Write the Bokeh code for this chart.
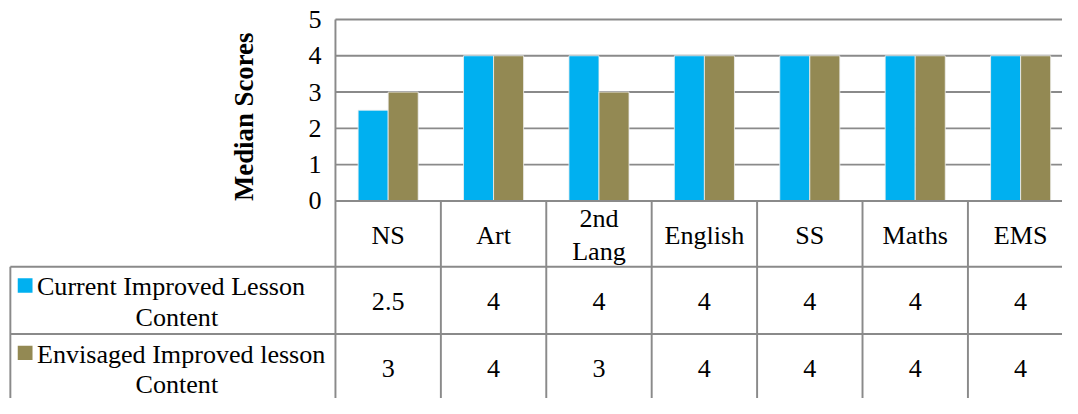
from bokeh.plotting import figure
from bokeh.models import Range1d
from bokeh.core.properties import value
from bokeh.embed import file_html
from bokeh.resources import INLINE

# ---- data ----
categories = ["NS", "Art", "2nd\nLang", "English", "SS", "Maths", "EMS"]
series_names = ["Current Improved Lesson\nContent", "Envisaged Improved lesson\nContent"]
current = [2.5, 4, 4, 4, 4, 4, 4]
envisaged = [3, 4, 3, 4, 4, 4, 4]
y_ticks = [0, 1, 2, 3, 4, 5]
y_title = "Median Scores"
colors = ["#00B0F0", "#938953"]

# ---- geometry (reference pixel space 1078x414, scaled onto the figure) ----
RW, RH = 1078.0, 414.0
W, H = 1062, 398
SX, SY = W / RW, H / RH
S = (SX + SY) / 2
X0, CW = 340.0, 107.0          # left of plot area, width per category
Y0, UH = 208.5, 37.75          # pixel of value 0, pixels per unit
def px2x(px): return (px - X0) / CW
def px2y(py): return (Y0 - py) / UH

FONT = value("Liberation Serif")
GRID = "#8a8a8a"
LW = 2.0 * S

p = figure(width=W, height=H, output_backend="svg", toolbar_location=None,
           x_range=Range1d(px2x(0), px2x(RW)), y_range=Range1d(px2y(RH), px2y(0)),
           x_axis_type=None, y_axis_type=None, min_border=0,
           outline_line_color=None, background_fill_color="white", border_fill_color="white")

n = len(categories)
xend = n + 0.5
bottom = px2y(430)

# gridlines
gy = [t for t in y_ticks if t > 0]
p.segment(x0=[0] * len(gy), x1=[xend] * len(gy), y0=gy, y1=gy, line_color=GRID, line_width=LW)

# bars
bw = 0.285
idx = list(range(n))
for k, (vals, c) in enumerate(zip([current, envisaged], colors)):
    off = (-0.5 + k) * bw
    p.vbar(x=[i + 0.5 + off for i in idx], top=vals, bottom=0, width=bw,
           fill_color=c, line_color="#f0f0f0", line_width=0.8)

# axis line and left line
p.segment(x0=[0], x1=[xend], y0=[0], y1=[0], line_color=GRID, line_width=LW)
p.segment(x0=[0], x1=[0], y0=[max(y_ticks)], y1=[bottom], line_color=GRID, line_width=LW)

# table lines
row1_top, row2_top = px2y(277), px2y(347)
p.segment(x0=[i for i in range(1, n + 1)], x1=[i for i in range(1, n + 1)],
          y0=[0] * n, y1=[bottom] * n, line_color=GRID, line_width=LW)
p.segment(x0=[px2x(10)] * 2, x1=[xend] * 2, y0=[row1_top, row2_top], y1=[row1_top, row2_top],
          line_color=GRID, line_width=LW)
p.segment(x0=[px2x(10)], x1=[px2x(10)], y0=[row1_top], y1=[bottom], line_color=GRID, line_width=LW)

FS = f"{26.8 * S:.1f}px"
# y tick labels
p.text(x=[px2x(326)] * len(y_ticks), y=y_ticks, text=[str(t) for t in y_ticks],
       text_font=FONT, text_font_size=FS, text_align="right", text_baseline="middle", text_color="black")
# y title
p.text(x=[px2x(247)], y=[px2y(121)], text=[y_title], angle=1.5707963, text_font=FONT,
       text_font_size=f"{27.5 * S:.1f}px", text_font_style="bold", text_align="center",
       text_baseline="middle", text_color="black")

# category header
p.text(x=[i + 0.5 for i in idx], y=[px2y(244)] * n, text=categories, text_font=FONT,
       text_font_size=FS, text_align="center", text_baseline="middle", text_line_height=1.12,
       text_color="black")

# value rows
for vals, cy in zip([current, envisaged], [313, 383]):
    p.text(x=[i + 0.5 for i in idx], y=[px2y(cy)] * n, text=[f"{v:g}" for v in vals], text_font=FONT,
           text_font_size=FS, text_align="center", text_baseline="middle", text_color="black")

# legend cells
for name, c, l1y, l2y in zip(series_names, colors, [298, 368], [330, 399]):
    first, second = name.split("\n")
    p.rect(x=[px2x(25)], y=[px2y(l1y - 1.5)], width=15 / CW, height=15 / UH,
           fill_color=c, line_color=None)
    p.text(x=[px2x(37)], y=[px2y(l1y)], text=[first], text_font=FONT, text_font_size=FS,
           text_align="left", text_baseline="middle", text_color="black")
    p.text(x=[px2x(179)], y=[px2y(l2y)], text=[second], text_font=FONT, text_font_size=FS,
           text_align="center", text_baseline="middle", text_color="black")

open("out.html", "w").write(file_html(p, INLINE))
